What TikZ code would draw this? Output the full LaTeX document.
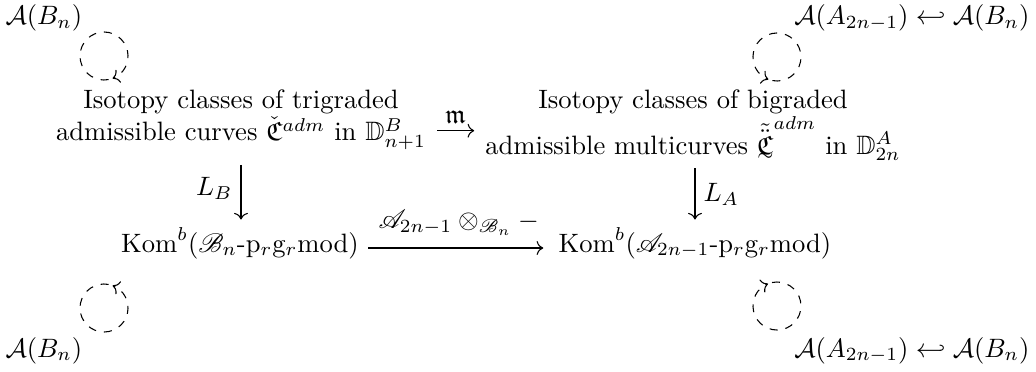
\documentclass[tikz,border=0pt]{standalone}
\usepackage{amsmath,amssymb,mathrsfs}
\usetikzlibrary{cd}
\newcommand{\utld}[1]{\mathord{\vtop{\offinterlineskip\halign{\hfil##\hfil\cr$\textstyle#1$\cr\noalign{\kern-0.3pt}$\scriptstyle\sim$\cr}}}}
\begin{document}
\begin{tikzpicture}[x=0.376pt,y=-0.376pt,
  lbl/.style={inner sep=0pt},
  mainnode/.style={align=center,inner sep=0pt},
  arr/.style={-{cm to},line width=0.4pt},
  loopy/.style={dashed,-{cm to},line width=0.4pt}]
\useasboundingbox (0,0) rectangle (1036,371);
% corner labels
\node[lbl,anchor=base west] (a1) at (5,24.5) {$\mathcal{A}(B_n)$};
\node[lbl,anchor=base east] (a2) at (1030,24.5) {$\mathcal{A}(A_{2n-1})\hookleftarrow\mathcal{A}(B_n)$};
\node[lbl,anchor=base west] (a3) at (5,357) {$\mathcal{A}(B_n)$};
\node[lbl,anchor=base east] (a4) at (1030,357) {$\mathcal{A}(A_{2n-1})\hookleftarrow\mathcal{A}(B_n)$};
% loops
\coordinate (c1) at (104,56);
\coordinate (c2) at (777,57);
\coordinate (c3) at (104,308);
\coordinate (c4) at (777,306);
\draw[loopy] ([shift={(-281:24)}]c1) arc[start angle=-281,end angle=69,radius=24];
\draw[loopy] ([shift={(461:24)}]c2) arc[start angle=461,end angle=111,radius=24];
\draw[loopy] ([shift={(281:24)}]c3) arc[start angle=281,end angle=-69,radius=24];
\draw[loopy] ([shift={(-462:24)}]c4) arc[start angle=-462,end angle=-112,radius=24];
% main nodes
\node[mainnode,anchor=north] (tl) at (241,89.5) {Isotopy classes of trigraded\\ admissible curves $\check{\mathfrak{C}}^{adm}$ in $\mathbb{D}^B_{n+1}$};
\node[mainnode,anchor=north] (tr) at (693,89.5) {Isotopy classes of bigraded\\ admissible multicurves $\utld{\tilde{\ddot{\mathfrak{C}}}}^{adm}$ in $\mathbb{D}^A_{2n}$};
\node[lbl,anchor=base] (bl) at (240,252) {$\mathrm{Kom}^b(\mathscr{B}_n\text{-}\mathrm{p}_r\mathrm{g}_r\mathrm{mod})$};
\node[lbl,anchor=base] (br) at (695,252) {$\mathrm{Kom}^b(\mathscr{A}_{2n-1}\text{-}\mathrm{p}_r\mathrm{g}_r\mathrm{mod})$};
% arrows
\draw[arr,shorten <=4pt,shorten >=4pt] ([yshift=-4.1pt]tl.east) -- node[above,inner sep=2.5pt] (m) {$\mathfrak{m}$} ([yshift=-4.1pt]tl.east -| tr.west);
\draw[arr,shorten <=5.6pt,shorten >=2.8pt] (tl.south) -- node[left,inner sep=3pt] (lb) {$L_B$} (tl.south |- bl.north);
\draw[arr,shorten <=2.5pt,shorten >=2.8pt] (br.north |- tr.south) -- node[right,inner sep=3pt] (la) {$L_A$} (br.north);
\draw[arr,shorten <=3.4pt,shorten >=5.6pt] ([yshift=1.5pt]bl.base east) -- node[above,inner sep=4.5pt] (tens) {$\mathscr{A}_{2n-1}\otimes_{\mathscr{B}_n}-$} ([yshift=1.5pt]br.base west);
\end{tikzpicture}
\end{document}
